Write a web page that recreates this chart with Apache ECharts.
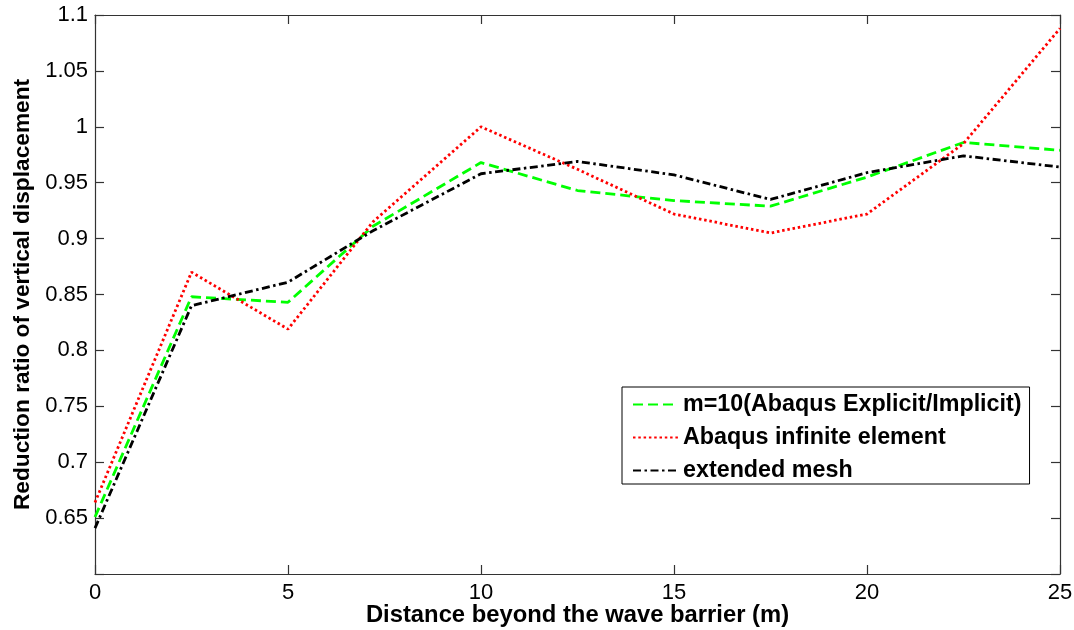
<!DOCTYPE html>
<html>
<head>
<meta charset="utf-8">
<script src="https://cdn.jsdelivr.net/npm/echarts@6/dist/echarts.min.js"></script>
<style>
html,body{margin:0;padding:0;background:#fff;}
#chart{width:1074px;height:630px;}
</style>
</head>
<body>
<div id="chart"></div>
<script>
// Data
const xValues = [0, 2.5, 5, 7.2, 10, 12.5, 15, 17.5, 20, 22.5, 25];
const explicitImplicit = [0.651, 0.848, 0.843, 0.911, 0.968, 0.943, 0.934, 0.929, 0.955, 0.986, 0.979];
const infiniteElement = [0.664, 0.870, 0.819, 0.915, 1.000, 0.962, 0.922, 0.905, 0.922, 0.985, 1.088];
const extendedMesh = [0.641, 0.840, 0.861, 0.907, 0.958, 0.969, 0.957, 0.935, 0.959, 0.974, 0.964];
const seriesNames = ['m=10(Abaqus Explicit/Implicit)', 'Abaqus infinite element', 'extended mesh'];

const pair = (ys) => xValues.map((x, i) => [x, ys[i]]);
const FONT = 'Liberation Sans, Arial, sans-serif';
const axisLineStyle = { color: '#333', width: 1.2 };

const chart = echarts.init(document.getElementById('chart'), null, { renderer: 'canvas' });
chart.setOption({
  animation: false,
  backgroundColor: '#fff',
  grid: { left: 95, right: 14, top: 15, bottom: 56, containLabel: false, outerBoundsMode: 'none' },
  xAxis: [
    {
      type: 'value', min: 0, max: 25, interval: 5, position: 'bottom',
      name: 'Distance beyond the wave barrier (m)', nameLocation: 'middle', nameGap: 29,
      nameMoveOverlap: false,
      nameTextStyle: { fontFamily: FONT, fontWeight: 'bold', fontSize: 23.8, color: '#000' },
      axisLine: { show: true, onZero: false, lineStyle: axisLineStyle },
      axisTick: { show: true, inside: true, length: 9, lineStyle: axisLineStyle },
      axisLabel: { fontFamily: FONT, fontSize: 22, color: '#000', margin: 8 },
      splitLine: { show: false }
    },
    {
      type: 'value', min: 0, max: 25, interval: 5, position: 'top',
      axisLine: { show: true, onZero: false, lineStyle: axisLineStyle },
      axisTick: { show: true, inside: true, length: 9, lineStyle: axisLineStyle },
      axisLabel: { show: false },
      splitLine: { show: false }
    }
  ],
  yAxis: [
    {
      type: 'value', min: 0.6, max: 1.1, interval: 0.05, position: 'left',
      name: 'Reduction ratio of vertical displacement', nameLocation: 'middle', nameGap: 61,
      nameRotate: 90, nameMoveOverlap: false,
      nameTextStyle: { fontFamily: FONT, fontWeight: 'bold', fontSize: 22.7, color: '#000' },
      axisLine: { show: true, onZero: false, lineStyle: axisLineStyle },
      axisTick: { show: true, inside: true, length: 9, lineStyle: axisLineStyle },
      axisLabel: {
        fontFamily: FONT, fontSize: 22, color: '#000', margin: 7,
        formatter: (v) => Math.abs(v - 0.6) < 1e-9 ? '' : String(parseFloat(v.toFixed(2)))
      },
      splitLine: { show: false }
    },
    {
      type: 'value', min: 0.6, max: 1.1, interval: 0.05, position: 'right',
      axisLine: { show: true, onZero: false, lineStyle: axisLineStyle },
      axisTick: { show: true, inside: true, length: 9, lineStyle: axisLineStyle },
      axisLabel: { show: false },
      splitLine: { show: false }
    }
  ],
  legend: {
    show: true, orient: 'vertical', left: 622, top: 387,
    padding: [6, 8, 2, 10],
    backgroundColor: '#fff', borderColor: '#000', borderWidth: 1,
    itemWidth: 45, itemHeight: 14, itemGap: 10,
    itemStyle: { opacity: 0 },
    textStyle: { fontFamily: FONT, fontWeight: 'bold', fontSize: 23.3, lineHeight: 22, color: '#000' },
    data: seriesNames
  },
  series: [
    {
      name: seriesNames[0], type: 'line', data: pair(explicitImplicit),
      showSymbol: false, symbol: 'none',
      lineStyle: { color: '#00ff00', width: 2.8, type: [10, 5] },
      itemStyle: { color: '#00ff00' }
    },
    {
      name: seriesNames[1], type: 'line', data: pair(infiniteElement),
      showSymbol: false, symbol: 'none',
      lineStyle: { color: '#ff0000', width: 2.8, type: [2.5, 2.8] },
      itemStyle: { color: '#ff0000' }
    },
    {
      name: seriesNames[2], type: 'line', data: pair(extendedMesh),
      showSymbol: false, symbol: 'none',
      lineStyle: { color: '#000000', width: 2.8, type: [8, 3.5, 2.5, 3.5] },
      itemStyle: { color: '#000000' }
    }
  ]
});
</script>
</body>
</html>
